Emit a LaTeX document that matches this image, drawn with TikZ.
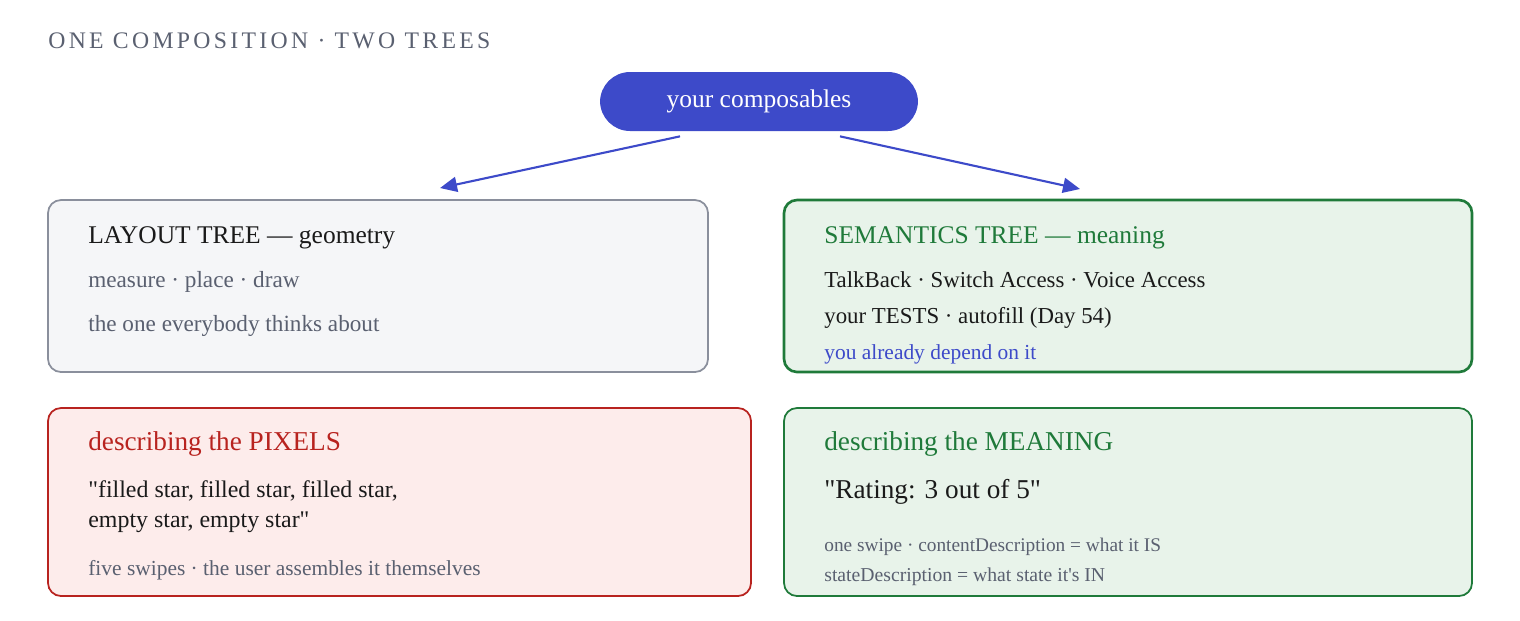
\documentclass[tikz,border=0pt]{standalone}
\usepackage{fontspec}
\setmainfont{Liberation Serif}
\usetikzlibrary{positioning,arrows.meta}
\definecolor{pillblue}{HTML}{3D4AC9}
\definecolor{inkdark}{HTML}{1A1A1A}
\definecolor{inkgray}{HTML}{5A6070}
\definecolor{inkgreen}{HTML}{1F7A3A}
\definecolor{inkred}{HTML}{B8231F}
\definecolor{boxgray}{HTML}{F5F6F8}
\definecolor{linegray}{HTML}{8A8F9C}
\definecolor{boxgreen}{HTML}{E8F3EA}
\definecolor{boxred}{HTML}{FDECEB}
\newcommand{\fs}[1]{\fontsize{#1}{#1}\selectfont}
\tikzset{
  tree/.style={draw, rounded corners=0.26cm, line width=1pt},
  txt/.style={anchor=base west, inner sep=0pt, font=\fs{14.5}, text=inkdark},
  note/.style={txt, font=\fs{13.2}, text=inkgray},
  flow/.style={draw=pillblue, line width=1.2pt, -{Triangle[length=0.34cm,width=0.3cm]}}
}
\begin{document}
\begin{tikzpicture}[x=0.02cm,y=-0.02cm]
\useasboundingbox (0,0) rectangle (1520,620);
\node[anchor=base west, inner sep=0pt, text=inkgray, font=\fs{13.5}\addfontfeatures{LetterSpace=14}] (title) at (48,48) {ONE COMPOSITION · TWO TREES};
% the source
\node[fill=pillblue, text=white, rounded corners=0.6cm, minimum width=6.36cm, minimum height=1.18cm, font=\fs{14.5}] (pill) at (759,101.5) {your composables};
% four boxes
\draw[tree, fill=boxgray, draw=linegray] (48,200) rectangle (708,372);
\draw[tree, fill=boxgreen, draw=inkgreen, line width=1.5pt] (784,200) rectangle (1472,372);
\draw[tree, fill=boxred, draw=inkred] (48,408) rectangle (751,596);
\draw[tree, fill=boxgreen, draw=inkgreen] (784,408) rectangle (1472,596);
\coordinate (layouttop) at (440,188);
\coordinate (semtop) at (1080,189);
\draw[flow] ([xshift=-1.58cm,yshift=-0.1cm]pill.south) -- (layouttop);
\draw[flow] ([xshift=1.62cm,yshift=-0.1cm]pill.south) -- (semtop);
% layout tree
\node[txt] (lay1) at (88,243) {LAYOUT TREE — geometry};
\node[note] (lay2) at (88,287) {measure · place · draw};
\node[note] (lay3) at (88,331) {the one everybody thinks about};
% semantics tree
\node[txt, text=inkgreen] (sem1) at (824,243) {SEMANTICS TREE — meaning};
\node[txt, font=\fs{13}] (sem2) at (824,287) {TalkBack · Switch Access · Voice Access};
\node[txt, font=\fs{13}] (sem3) at (824,323) {your TESTS · autofill (Day 54)};
\node[note, font=\fs{12.2}, text=pillblue] (sem4) at (824,359) {you already depend on it};
% pixels
\node[txt, text=inkred, font=\fs{15.5}] (pix1) at (88,450) {describing the PIXELS};
\node[txt, font=\fs{13.6}] (pix2) at (88,497) {\textquotedbl filled star, filled star, filled star,};
\node[txt, font=\fs{13.6}] (pix3) at (88,527) {empty star, empty star\textquotedbl};
\node[note, font=\fs{12.2}] (pix4) at (88,575) {five swipes · the user assembles it themselves};
% meaning
\node[txt, text=inkgreen, font=\fs{15.5}] (mean1) at (824,450) {describing the MEANING};
\node[txt, font=\fs{15.5}] (mean2) at (824,498) {\textquotedbl Rating: 3 out of 5\textquotedbl};
\node[note, font=\fs{11}] (mean3) at (824,551) {one swipe · contentDescription = what it IS};
\node[note, font=\fs{11.2}] (mean4) at (824,581) {stateDescription = what state it\textquotesingle s IN};
\end{tikzpicture}
\end{document}
